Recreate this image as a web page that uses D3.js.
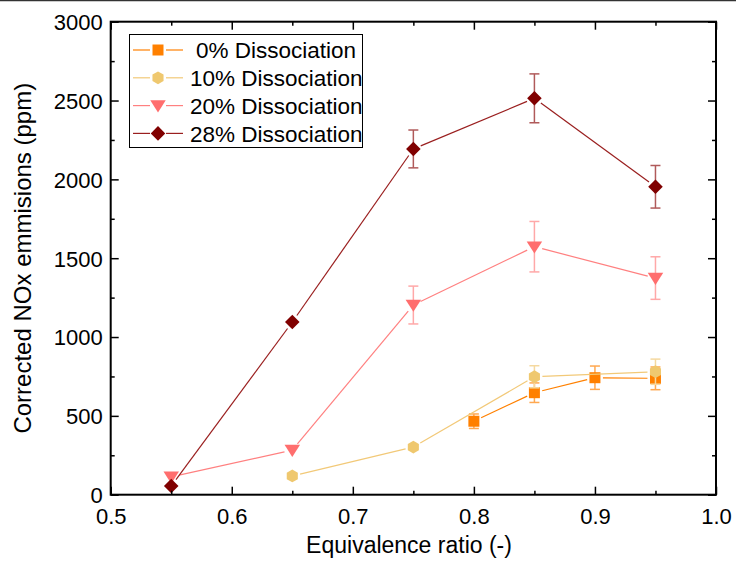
<!DOCTYPE html>
<html>
<head>
<meta charset="utf-8">
<script src="https://cdn.jsdelivr.net/npm/d3@7"></script>
<style>
  html, body { margin: 0; padding: 0; background: #fff; }
  svg { display: block; font-family: "Liberation Sans", Arial, sans-serif; }
</style>
</head>
<body>
<svg id="chart" width="736" height="563"></svg>
<script>
// Corrected NOx emissions vs. equivalence ratio for four dissociation levels
const seriesNames = ["0% Dissociation", "10% Dissociation", "20% Dissociation", "28% Dissociation"];

const phi0  = [0.80, 0.85, 0.90, 0.95];
const nox0  = [466, 647, 742, 738];
const err0  = [46, 62, 74, 72];

const phi10 = [0.65, 0.75, 0.85, 0.95];
const nox10 = [119, 302, 748, 780];
const err10 = [0, 0, 70, 80];

const phi20 = [0.55, 0.65, 0.75, 0.85, 0.95];
const nox20 = [113, 283, 1203, 1573, 1374];
const err20 = [0, 0, 120, 160, 135];

const phi28 = [0.55, 0.65, 0.75, 0.85, 0.95];
const nox28 = [55, 1095, 2193, 2514, 1953];
const err28 = [0, 0, 120, 155, 135];

const xTicks = [0.5, 0.6, 0.7, 0.8, 0.9, 1.0];
const yTicks = [0, 500, 1000, 1500, 2000, 2500, 3000];

const styles = [
  { line: "#FF8000", marker: "#FF8000", err: "#FFA850", shape: "square" },
  { line: "#F2C978", marker: "#EFC86F", err: "#F5D9A0", shape: "hexagon" },
  { line: "#FF8080", marker: "#FF6E6E", err: "#FFA8A8", shape: "triangleDown" },
  { line: "#9A1F1F", marker: "#800000", err: "#B05A5A", shape: "diamond" }
];

const series = [
  { x: phi0,  y: nox0,  e: err0  },
  { x: phi10, y: nox10, e: err10 },
  { x: phi20, y: nox20, e: err20 },
  { x: phi28, y: nox28, e: err28 }
];

const svg = d3.select("#chart");
const mLeft = 110.7, mRight = 716, mTop = 21.7, mBottom = 494.7;

const x = d3.scaleLinear().domain([0.5, 1.0]).range([mLeft, mRight]);
const y = d3.scaleLinear().domain([0, 3000]).range([mBottom, mTop]);

// thin rule across the top edge of the page
svg.append("line").attr("x1", 0).attr("x2", 736).attr("y1", 0.6).attr("y2", 0.6)
  .attr("stroke", "#333").attr("stroke-width", 1.4);

// marker path generator
function markerPath(shape, r) {
  const p = d3.path();
  if (shape === "square") {
    p.rect(-r, -r, 2 * r, 2 * r);
  } else if (shape === "hexagon") {
    for (let i = 0; i < 6; i++) {
      const a = Math.PI / 6 + i * Math.PI / 3;
      const px = r * Math.cos(a), py = r * Math.sin(a);
      if (i === 0) p.moveTo(px, py); else p.lineTo(px, py);
    }
    p.closePath();
  } else if (shape === "triangleDown") {
    const w = r * 1.25;
    p.moveTo(-w, -r * 0.85); p.lineTo(w, -r * 0.85); p.lineTo(0, r * 1.1); p.closePath();
  } else if (shape === "diamond") {
    const d = r * 1.3;
    p.moveTo(0, -d); p.lineTo(d, 0); p.lineTo(0, d); p.lineTo(-d, 0); p.closePath();
  }
  return p.toString();
}
const markerR = [5.5, 6.4, 6.2, 5.6];

// connecting lines with small gaps at the markers
function gappedSegments(px, py, gap) {
  const segs = [];
  for (let i = 0; i < px.length - 1; i++) {
    const dx = px[i + 1] - px[i], dy = py[i + 1] - py[i];
    const len = Math.hypot(dx, dy);
    if (len <= 2 * gap) continue;
    const ux = dx / len, uy = dy / len;
    segs.push([px[i] + ux * gap, py[i] + uy * gap, px[i + 1] - ux * gap, py[i + 1] - uy * gap]);
  }
  return segs;
}

const plot = svg.append("g");

series.forEach((s, k) => {
  const st = styles[k];
  const g = plot.append("g");
  const px = s.x.map(v => x(v));
  const py = s.y.map(v => y(v));

  gappedSegments(px, py, 8).forEach(sg => {
    g.append("line")
      .attr("x1", sg[0]).attr("y1", sg[1]).attr("x2", sg[2]).attr("y2", sg[3])
      .attr("stroke", st.line).attr("stroke-width", 1.2);
  });

  // error bars
  s.x.forEach((xv, i) => {
    if (!s.e[i]) return;
    const cx = x(xv), y1 = y(s.y[i] + s.e[i]), y2 = y(s.y[i] - s.e[i]);
    const eg = g.append("g").attr("stroke", st.err).attr("stroke-width", 1.5);
    eg.append("line").attr("x1", cx).attr("x2", cx).attr("y1", y1).attr("y2", y2);
    eg.append("line").attr("x1", cx - 5).attr("x2", cx + 5).attr("y1", y1).attr("y2", y1);
    eg.append("line").attr("x1", cx - 5).attr("x2", cx + 5).attr("y1", y2).attr("y2", y2);
  });

  // markers
  g.selectAll("path.mk").data(s.x.map((xv, i) => [xv, s.y[i]])).join("path")
    .attr("class", "mk")
    .attr("transform", d => `translate(${x(d[0])},${y(d[1])})`)
    .attr("d", markerPath(st.shape, markerR[k]))
    .attr("fill", st.marker);
});

// axes: ticks pointing inward on all four sides
const minorX = d3.range(0.55, 1.0, 0.1);
const minorY = d3.range(250, 3000, 500);

function drawTicks(axisGen, transform, majors, minors) {
  const gMaj = svg.append("g").attr("transform", transform)
    .call(axisGen.tickValues(majors).tickSize(-8).tickFormat(""));
  const gMin = svg.append("g").attr("transform", transform)
    .call(axisGen.tickValues(minors).tickSize(-4).tickFormat(""));
  [gMaj, gMin].forEach(gg => {
    gg.select(".domain").remove();
    gg.selectAll(".tick line").attr("stroke", "#000").attr("stroke-width", 1.5);
  });
}
drawTicks(d3.axisBottom(x), `translate(0,${mBottom})`, xTicks, minorX);
drawTicks(d3.axisTop(x), `translate(0,${mTop})`, xTicks, minorX);
drawTicks(d3.axisLeft(y), `translate(${mLeft},0)`, yTicks, minorY);
drawTicks(d3.axisRight(y), `translate(${mRight},0)`, yTicks, minorY);

// frame
svg.append("rect").attr("x", mLeft).attr("y", mTop)
  .attr("width", mRight - mLeft).attr("height", mBottom - mTop)
  .attr("fill", "none").attr("stroke", "#000").attr("stroke-width", 2);

// tick labels
const bottomLabels = svg.append("g").attr("transform", `translate(0,${mBottom})`)
  .call(d3.axisBottom(x).tickValues(xTicks).tickSize(0).tickPadding(0).tickFormat(d3.format(".1f")));
bottomLabels.select(".domain").remove();
bottomLabels.selectAll("text").attr("dy", null).attr("y", 29)
  .attr("font-size", 22).attr("font-family", "Liberation Sans, Arial, sans-serif").attr("fill", "#000");

const leftLabels = svg.append("g").attr("transform", `translate(${mLeft},0)`)
  .call(d3.axisLeft(y).tickValues(yTicks).tickSize(0).tickPadding(0).tickFormat(d3.format("d")));
leftLabels.select(".domain").remove();
leftLabels.selectAll("text").attr("x", -8).attr("dy", "0.36em")
  .attr("font-size", 22).attr("font-family", "Liberation Sans, Arial, sans-serif").attr("fill", "#000");

// axis titles
svg.append("text").attr("x", 409).attr("y", 553)
  .attr("text-anchor", "middle").attr("font-size", 23).text("Equivalence ratio (-)");
svg.append("text").attr("transform", `translate(31,${(mTop + mBottom) / 2}) rotate(-90)`)
  .attr("text-anchor", "middle").attr("font-size", 24).text("Corrected NOx emmisions (ppm)");

// legend
const legend = svg.append("g");
legend.append("rect").attr("x", 129.5).attr("y", 34.5).attr("width", 233).attr("height", 113)
  .attr("fill", "#fff").attr("stroke", "#000").attr("stroke-width", 1);
seriesNames.forEach((name, k) => {
  const st = styles[k];
  const cy = 50 + k * 27.8;
  legend.append("line").attr("x1", 133).attr("x2", 150).attr("y1", cy).attr("y2", cy)
    .attr("stroke", st.line).attr("stroke-width", 1.2);
  legend.append("line").attr("x1", 166).attr("x2", 183).attr("y1", cy).attr("y2", cy)
    .attr("stroke", st.line).attr("stroke-width", 1.2);
  legend.append("path").attr("transform", `translate(158,${cy})`)
    .attr("d", markerPath(st.shape, markerR[k])).attr("fill", st.marker);
  legend.append("text").attr("x", k === 0 ? 196 : 190).attr("y", cy).attr("dy", "0.36em")
    .attr("font-size", 22.5).attr("fill", "#000").text(name);
});
</script>
</body>
</html>
